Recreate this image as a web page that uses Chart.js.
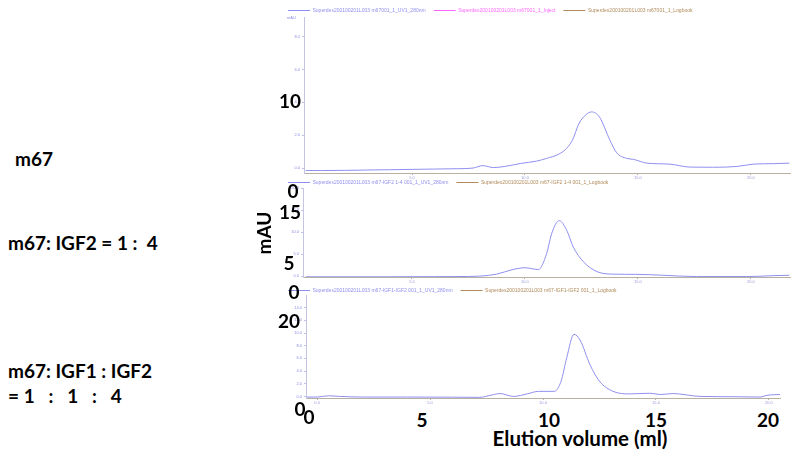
<!DOCTYPE html>
<html><head><meta charset="utf-8">
<script src="https://cdn.jsdelivr.net/npm/chart.js@4/dist/chart.umd.min.js"></script>
<style>
html,body{margin:0;padding:0;background:#fff;width:800px;height:459px;overflow:hidden;position:relative;}
canvas{position:absolute;}
.big{position:absolute;font-family:Lato,"Open Sans",sans-serif;font-weight:bold;color:#000;font-size:19px;line-height:1;white-space:pre;transform:translate(-50%,-50%);}
.lft{position:absolute;font-family:Lato,"Open Sans",sans-serif;font-weight:bold;color:#000;font-size:19px;line-height:1;white-space:pre;transform:translate(0,-50%);}
.tiny{position:absolute;font-family:"Liberation Sans",sans-serif;font-size:4px;color:#8c8ce6;}
</style></head><body>
<canvas id="c1" width="520" height="182" style="left:280px;top:0px"></canvas>
<canvas id="c2" width="520" height="114" style="left:280px;top:172px"></canvas>
<canvas id="c3" width="520" height="127" style="left:280px;top:280px"></canvas>

<div class="tiny" style="left:287px;top:15px">mAU</div>

<div class="lft" style="left:15px;top:158px">m67</div>
<div class="lft" style="left:8px;top:242px">m67: IGF2 = 1 :  4</div>
<div class="lft" style="left:8px;top:370px">m67: IGF1 : IGF2</div>
<div class="lft" style="left:8px;top:395px">= 1   :   1   :   4</div>

<div class="big" style="left:290px;top:100px">10</div>
<div class="big" style="left:293px;top:190px">0</div>
<div class="big" style="left:290px;top:211px">15</div>
<div class="big" style="left:289px;top:262px">5</div>
<div class="big" style="left:294px;top:291px">0</div>
<div class="big" style="left:289px;top:320px">20</div>
<div class="big" style="left:300px;top:408px">0</div>
<div class="big" style="left:263px;top:233px;transform:translate(-50%,-50%) rotate(-90deg)">mAU</div>

<div class="big" style="left:309px;top:416px">0</div>
<div class="big" style="left:422px;top:419px">5</div>
<div class="big" style="left:549px;top:419px">10</div>
<div class="big" style="left:656px;top:419px">15</div>
<div class="big" style="left:768px;top:419px">20</div>
<div class="big" style="left:580px;top:438px;font-size:20.5px">Elution volume (ml)</div>

<script>
// ---- Data ----
const vol1 = [0.3,1,2,3,4,5,6,7,7.7,8.14,8.6,9.2,9.8,10.5,10.96,11.5,11.84,12.1,12.4,12.7,12.95,13.3,13.76,14.06,14.5,14.8,15.4,16.4,17.3,18.3,19.4,20.1,21.0,21.7];
const uv1  = [-0.15,-0.15,-0.14,-0.12,-0.1,-0.08,-0.06,-0.04,0.0,0.15,0.03,0.12,0.28,0.42,0.59,0.85,1.2,1.7,2.74,3.25,3.42,3.1,1.7,0.93,0.59,0.53,0.3,0.24,0.06,0.05,0.1,0.24,0.27,0.3];

const vol2 = [0.3,2,4,6,7,8.0,8.75,9.47,10.0,10.6,10.96,11.18,11.52,11.85,12.14,12.6,13.2,13.9,14.9,16.1,17.6,19.8,21.0,21.7];
const uv2  = [-0.15,-0.15,-0.15,-0.12,-0.1,0.0,0.45,1.5,1.9,1.5,5.1,9.6,12.6,10.4,6.6,3.2,1.0,0.45,0.4,0.2,-0.1,-0.1,0.1,0.2];

const vol3 = [-0.45,0.0,0.5,1.0,2.0,4.0,6.0,7.2,7.7,8.1,8.7,9.3,9.8,10.5,10.8,11.05,11.37,11.64,12.08,12.5,13.1,13.85,14.73,15.2,15.75,16.95,18.5,19.6,19.96,20.5];
const uv3  = [-0.1,-0.1,0.1,0.0,-0.1,-0.1,-0.12,-0.15,0.2,0.45,0.0,0.4,0.8,0.8,2.4,6.1,9.8,8.9,5.0,2.4,0.8,0.4,0.5,0.3,0.45,0.0,-0.05,-0.1,0.2,0.3];

const yTicks1 = [0,2,4,6,8];
const yTicks2 = [0,5,10,15,20];
const yTicks3 = [0,2,4,6,8,10,12,14];
const xTicks12 = [5,10,15,20];
const xTicks3 = [0,5,10,15,20];

const legend1 = ['Superdex200100201L003 m67001_1_UV1_280nm','Superdex200100201L003 m67001_1_Inject','Superdex200100201L003 m67001_1_Logbook'];
const legend2 = ['Superdex200100201L003 m67-IGF2 1-4 001_1_UV1_280nm','Superdex200100201L003 m67-IGF2 1-4 001_1_Logbook'];
const legend3 = ['Superdex200100201L003 m67-IGF1-IGF2 001_1_UV1_280nm','Superdex200100201L003 m67-IGF1-IGF2 001_1_Logbook'];

// ---- Styles ----
const BLUE = '#8f8fef', MAG = '#ff66ff', BROWN = '#b08a5a';

function pts(xs, ys){ return xs.map((x,i)=>({x:x, y:ys[i]})); }

function makePanel(id, opt){
  const datasets = [{
    label: opt.legend[0], data: pts(opt.vol, opt.uv),
    borderColor: BLUE, backgroundColor: BLUE, borderWidth: 1,
    pointRadius: 0, tension: 0.4, cubicInterpolationMode: 'monotone'
  }];
  const extraCols = opt.legend.length === 3 ? [MAG, BROWN] : [BROWN];
  extraCols.forEach((c,i)=>{
    datasets.push({label: opt.legend[i+1], data: [], borderColor: c, backgroundColor: c, borderWidth: 1, pointRadius: 0});
  });
  new Chart(document.getElementById(id), {
    type: 'line',
    data: { datasets },
    options: {
      responsive: false, animation: false,
      layout: { padding: { left: 0, right: opt.padRight, top: 0, bottom: 0 } },
      plugins: {
        tooltip: { enabled: false },
        legend: {
          display: true, align: 'start', maxHeight: opt.legendH,
          labels: {
            boxWidth: 22, boxHeight: 1, padding: 8,
            font: { family: 'Liberation Sans', size: 5 },
            generateLabels: (chart) => Chart.defaults.plugins.legend.labels.generateLabels(chart).map(l => {
              l.fontColor = chart.data.datasets[l.datasetIndex].borderColor; l.lineWidth = 0; return l; })
          }
        }
      },
      scales: {
        x: {
          type: 'linear', min: opt.xmin, max: opt.xmax,
          afterFit: s => { s.height = 9; },
          afterBuildTicks: s => { s.ticks = opt.xTicks.map(v => ({value: v})); },
          ticks: { font: { family: 'Liberation Sans', size: 4 }, color: '#9a9ad8', padding: 0, maxRotation: 0, autoSkip: false,
                   callback: v => v.toFixed(1) },
          grid: { drawOnChartArea: false, drawTicks: true, tickLength: 2, color: '#b0b0b0' },
          border: { color: '#b8b0a0', width: 1 }
        },
        y: {
          type: 'linear', min: opt.ymin, max: opt.ymax,
          afterFit: s => { s.width = opt.yW; },
          afterBuildTicks: s => { s.ticks = opt.yTicks.map(v => ({value: v})); },
          ticks: { font: { family: 'Liberation Sans', size: 4 }, color: '#8c8ce6', padding: 2, autoSkip: false,
                   callback: v => v.toFixed(1) },
          grid: { drawOnChartArea: false, drawTicks: true, tickLength: 2, color: '#c0c0e8' },
          border: { color: '#c4c4e4', width: 1 }
        }
      }
    }
  });
}

makePanel('c1', { vol: vol1, uv: uv1, legend: legend1, yTicks: yTicks1, xTicks: xTicks12,
  xmin: 0.22, xmax: 21.73, ymin: -0.3, ymax: 9.2, yW: 24, padRight: 10, legendH: 17 });
makePanel('c2', { vol: vol2, uv: uv2, legend: legend2, yTicks: yTicks2, xTicks: xTicks12,
  xmin: 0.18, xmax: 21.73, ymin: -0.2, ymax: 20, yW: 23, padRight: 10, legendH: 16 });
makePanel('c3', { vol: vol3, uv: uv3, legend: legend3, yTicks: yTicks3, xTicks: xTicks3,
  xmin: -0.49, xmax: 20.49, ymin: -0.25, ymax: 16, yW: 26, padRight: 20, legendH: 15 });
</script>
</body></html>
